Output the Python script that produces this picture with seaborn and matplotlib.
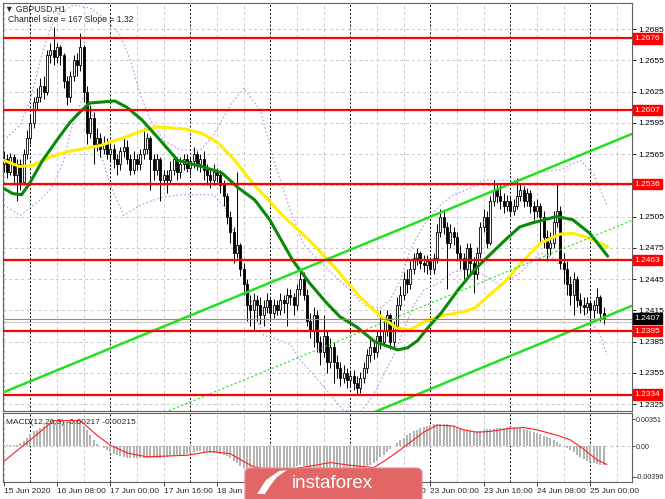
import numpy as np
import matplotlib
matplotlib.use("Agg")
import matplotlib.pyplot as plt
import matplotlib.transforms as mtransforms
from matplotlib.patches import FancyBboxPatch, Polygon
import seaborn as sns

sns.set_style("white")
plt.rcParams['font.family'] = ['Liberation Sans', 'DejaVu Sans']

# ---- data (GBPUSD H1, 15 Jun 16:00 .. 25 Jun 04:00) ----
first_open = 1.2555
close = [1.2560, 1.2548, 1.2562, 1.2545, 1.2555, 1.2538, 1.2565, 1.2580, 1.2595, 1.2615,
         1.2620, 1.2630, 1.2625, 1.2660, 1.2665, 1.2658, 1.2668, 1.2660, 1.2635, 1.2620,
         1.2640, 1.2655, 1.2650, 1.2668, 1.2625, 1.2585, 1.2600, 1.2575, 1.2580, 1.2570,
         1.2575, 1.2565, 1.2570, 1.2560, 1.2555, 1.2568, 1.2572, 1.2560, 1.2550, 1.2560,
         1.2555, 1.2565, 1.2570, 1.2580, 1.2560, 1.2550, 1.2560, 1.2540, 1.2545, 1.2540,
         1.2550, 1.2560, 1.2548, 1.2555, 1.2560, 1.2552, 1.2558, 1.2565, 1.2555, 1.2560,
         1.2550, 1.2545, 1.2540, 1.2548, 1.2545, 1.2535, 1.2525, 1.2505, 1.2490, 1.2470,
         1.2478, 1.2455, 1.2440, 1.2420, 1.2415, 1.2425, 1.2420, 1.2410, 1.2418, 1.2425,
         1.2412, 1.2420, 1.2415, 1.2425, 1.2422, 1.2430, 1.2428, 1.2420, 1.2435, 1.2445,
         1.2430, 1.2405, 1.2395, 1.2410, 1.2385, 1.2375, 1.2390, 1.2365, 1.2380, 1.2365,
         1.2360, 1.2350, 1.2355, 1.2348, 1.2352, 1.2345, 1.2340, 1.2350, 1.2360, 1.2372,
         1.2380, 1.2375, 1.2390, 1.2385, 1.2395, 1.2410, 1.2385, 1.2400, 1.2420, 1.2430,
         1.2445, 1.2440, 1.2455, 1.2465, 1.2470, 1.2460, 1.2458, 1.2462, 1.2455, 1.2465,
         1.2490, 1.2505, 1.2495, 1.2480, 1.2490, 1.2485, 1.2470, 1.2465, 1.2455, 1.2475,
         1.2460, 1.2450, 1.2470, 1.2495, 1.2505, 1.2480, 1.2520, 1.2530, 1.2525, 1.2520,
         1.2515, 1.2520, 1.2510, 1.2515, 1.2525, 1.2530, 1.2520, 1.2528, 1.2515, 1.2510,
         1.2515, 1.2505, 1.2485, 1.2475, 1.2480, 1.2500, 1.2510, 1.2460, 1.2455, 1.2440,
         1.2430, 1.2445, 1.2425, 1.2420, 1.2418, 1.2422, 1.2415, 1.2420, 1.2428, 1.2412,
         1.2407]
high = [1.2568, 1.2565, 1.2566, 1.2565, 1.2560, 1.2560, 1.2570, 1.2588, 1.2602, 1.2620,
        1.2628, 1.2638, 1.2640, 1.2665, 1.2672, 1.2687, 1.2672, 1.2670, 1.2662, 1.2640,
        1.2645, 1.2660, 1.2662, 1.2681, 1.2670, 1.2630, 1.2612, 1.2605, 1.2590, 1.2585,
        1.2582, 1.2580, 1.2578, 1.2575, 1.2565, 1.2572, 1.2580, 1.2578, 1.2565, 1.2568,
        1.2565, 1.2570, 1.2590, 1.2585, 1.2582, 1.2565, 1.2565, 1.2562, 1.2550, 1.2550,
        1.2558, 1.2565, 1.2562, 1.2562, 1.2565, 1.2565, 1.2562, 1.2572, 1.2568, 1.2565,
        1.2568, 1.2555, 1.2550, 1.2555, 1.2552, 1.2550, 1.2540, 1.2528, 1.2510, 1.2495,
        1.2548, 1.2480, 1.2460, 1.2445, 1.2430, 1.2432, 1.2430, 1.2428, 1.2425, 1.2432,
        1.2428, 1.2426, 1.2425, 1.2432, 1.2430, 1.2436, 1.2435, 1.2432, 1.2440, 1.2455,
        1.2452, 1.2435, 1.2412, 1.2418, 1.2415, 1.2390, 1.2410, 1.2395, 1.2388, 1.2385,
        1.2372, 1.2365, 1.2362, 1.2360, 1.2358, 1.2358, 1.2352, 1.2356, 1.2365, 1.2378,
        1.2388, 1.2385, 1.2395, 1.2415, 1.2405, 1.2415, 1.2412, 1.2405, 1.2428, 1.2438,
        1.2452, 1.2455, 1.2462, 1.2470, 1.2475, 1.2472, 1.2468, 1.2468, 1.2466, 1.2470,
        1.2498, 1.2512, 1.2510, 1.2500, 1.2498, 1.2495, 1.2490, 1.2478, 1.2470, 1.2480,
        1.2480, 1.2466, 1.2476, 1.2500, 1.2512, 1.2510, 1.2525, 1.2540, 1.2536, 1.2535,
        1.2528, 1.2526, 1.2524, 1.2522, 1.2542, 1.2536, 1.2534, 1.2532, 1.2530, 1.2520,
        1.2522, 1.2518, 1.2510, 1.2492, 1.2490, 1.2510, 1.2537, 1.2515, 1.2470, 1.2462,
        1.2448, 1.2452, 1.2448, 1.2432, 1.2428, 1.2428, 1.2425, 1.2425, 1.2436, 1.2430,
        1.2418]
low = [1.2548, 1.2542, 1.2545, 1.2535, 1.2520, 1.2530, 1.2535, 1.2560, 1.2575, 1.2590,
       1.2608, 1.2615, 1.2618, 1.2622, 1.2652, 1.2650, 1.2652, 1.2650, 1.2628, 1.2612,
       1.2615, 1.2635, 1.2640, 1.2645, 1.2615, 1.2575, 1.2580, 1.2555, 1.2568, 1.2562,
       1.2565, 1.2560, 1.2558, 1.2552, 1.2545, 1.2550, 1.2562, 1.2555, 1.2545, 1.2546,
       1.2550, 1.2550, 1.2560, 1.2565, 1.2530, 1.2540, 1.2545, 1.2520, 1.2535, 1.2528,
       1.2536, 1.2545, 1.2540, 1.2542, 1.2550, 1.2548, 1.2545, 1.2552, 1.2550, 1.2548,
       1.2540, 1.2535, 1.2532, 1.2535, 1.2538, 1.2528, 1.2515, 1.2498, 1.2480, 1.2460,
       1.2465, 1.2448, 1.2430, 1.2405, 1.2400, 1.2395, 1.2405, 1.2402, 1.2400, 1.2412,
       1.2405, 1.2408, 1.2410, 1.2410, 1.2412, 1.2400, 1.2420, 1.2410, 1.2415, 1.2430,
       1.2425, 1.2400, 1.2388, 1.2380, 1.2375, 1.2362, 1.2370, 1.2355, 1.2360, 1.2345,
       1.2350, 1.2342, 1.2345, 1.2340, 1.2342, 1.2338, 1.2334, 1.2336, 1.2345, 1.2355,
       1.2365, 1.2368, 1.2370, 1.2378, 1.2382, 1.2390, 1.2378, 1.2380, 1.2395, 1.2415,
       1.2425, 1.2432, 1.2435, 1.2450, 1.2458, 1.2455, 1.2452, 1.2450, 1.2450, 1.2450,
       1.2460, 1.2485, 1.2488, 1.2435, 1.2475, 1.2478, 1.2462, 1.2455, 1.2445, 1.2448,
       1.2452, 1.2432, 1.2445, 1.2465, 1.2490, 1.2475, 1.2478, 1.2515, 1.2518, 1.2512,
       1.2508, 1.2510, 1.2505, 1.2506, 1.2512, 1.2520, 1.2514, 1.2515, 1.2508, 1.2502,
       1.2505, 1.2480, 1.2475, 1.2462, 1.2468, 1.2475, 1.2495, 1.2455, 1.2440, 1.2430,
       1.2420, 1.2410, 1.2418, 1.2412, 1.2410, 1.2412, 1.2405, 1.2408, 1.2412, 1.2405,
       1.2402]

# moving averages / bands (bar index, price)
ma_green_x = [0, 2.7, 5.4, 7.8, 11.7, 15.9, 19.8, 22.8, 25.8, 29.7, 33.3, 36.9, 41.4, 46.2,
              52.2, 59.4, 65.4, 70.2, 75.3, 79.8, 86.7, 91.8, 96.9, 100.8, 105.9, 111.3,
              118.2, 121.2, 124.2, 127.2, 131.4, 136.2, 141.3, 146.4, 150.3, 154.8, 158.7,
              165.9, 170.7, 175.8, 181.2]
ma_green_y = [1.2532, 1.2527, 1.2526, 1.2537, 1.2559, 1.2578, 1.2595, 1.2605, 1.2614, 1.2615,
              1.2616, 1.2610, 1.2598, 1.2581, 1.2559, 1.2553, 1.2547, 1.2533, 1.2521, 1.2502,
              1.2463, 1.2441, 1.2422, 1.2409, 1.2399, 1.2385, 1.2377, 1.2379, 1.2386, 1.2398,
              1.2413, 1.2434, 1.2454, 1.2470, 1.2482, 1.2495, 1.2499, 1.2505, 1.2502, 1.2489,
              1.2467]
ma_yellow_x = [0, 4.8, 8.7, 13.8, 18.9, 23.7, 28.8, 36.3, 42.3, 46.2, 54.3, 59.4, 64.2, 69.3,
               74.7, 83.7, 91.8, 99.9, 106.8, 112.8, 117.9, 121.8, 126.3, 131.4, 137.4, 141.3,
               145.8, 150.3, 154.8, 160.8, 166.8, 170.7, 175.8, 181.2]
ma_yellow_y = [1.2559, 1.2553, 1.2554, 1.2562, 1.2567, 1.2570, 1.2573, 1.2581, 1.2588, 1.2591,
               1.2589, 1.2585, 1.2576, 1.2559, 1.2537, 1.2506, 1.2482, 1.2454, 1.2428, 1.2410,
               1.2398, 1.2396, 1.2404, 1.2410, 1.2413, 1.2417, 1.2430, 1.2442, 1.2459, 1.2479,
               1.2488, 1.2489, 1.2484, 1.2476]
bb_up_x = [0, 5, 8, 11, 14, 17, 21, 26, 30, 35, 38, 41, 44, 48, 53, 59, 63, 68, 72, 77, 81, 86,
           90, 95, 99, 104, 108, 113, 116, 119, 122, 126, 131, 135, 140, 144, 149, 155, 161,
           167, 173, 177, 181]
bb_up_y = [1.2578, 1.2593, 1.2617, 1.2655, 1.2686, 1.2701, 1.2708, 1.2705, 1.2696, 1.2679,
           1.2655, 1.2622, 1.2598, 1.2578, 1.2569, 1.2569, 1.2583, 1.2612, 1.2628, 1.2607,
           1.2559, 1.2511, 1.2478, 1.2461, 1.2449, 1.2434, 1.2420, 1.2417, 1.2425, 1.2444,
           1.2473, 1.2497, 1.2516, 1.2526, 1.2532, 1.2540, 1.2540, 1.2540, 1.2548, 1.2550,
           1.2559, 1.2545, 1.2516]
bb_dn_x = [0, 5, 11, 15, 18, 21, 24, 26, 28, 32, 36, 41, 47, 53, 59, 63, 67, 70, 73, 76, 78,
           83, 86, 89, 93, 98, 102, 107, 111, 114, 117, 120, 123, 126, 131, 135, 140, 144, 149,
           155, 161, 165, 170, 174, 179, 181]
bb_dn_y = [1.2516, 1.2506, 1.2521, 1.2535, 1.2559, 1.2598, 1.2620, 1.2612, 1.2578, 1.2535,
           1.2506, 1.2516, 1.2523, 1.2526, 1.2526, 1.2526, 1.2511, 1.2478, 1.2439, 1.2406,
           1.2391, 1.2386, 1.2382, 1.2367, 1.2353, 1.2334, 1.2319, 1.2317, 1.2334, 1.2353,
           1.2372, 1.2396, 1.2420, 1.2434, 1.2442, 1.2452, 1.2454, 1.2449, 1.2439, 1.2451,
           1.2470, 1.2465, 1.2446, 1.2415, 1.2391, 1.2372]

# equidistant channel (bar, price) end points
chan_x = [-1, 189]
chan_upper = [1.2335, 1.2585]
chan_mid = [1.2252, 1.2502]
chan_lower = [1.2169, 1.2420]

levels = [1.2676, 1.2607, 1.2536, 1.2463, 1.2395, 1.2334]
last_price = 1.2407
grid_prices = [1.2685, 1.2655, 1.2625, 1.2595, 1.2565, 1.2535, 1.2505, 1.2475,
               1.2445, 1.2415, 1.2385, 1.2355, 1.2325]
price_ticks = [1.2685, 1.2655, 1.2625, 1.2595, 1.2565, 1.2505, 1.2475,
               1.2445, 1.2415, 1.2385, 1.2355, 1.2325]

# MACD main (histogram) in 1e-5 units, one per bar
macd_hist_e5 = [10, 10, 15, 10, 15, 40, 70, 110, 150, 190, 210, 240, 260, 280, 300, 310, 320,
                320, 315, 310, 315, 320, 320, 310, 260, 210, 140, 80, 30, 0, -30, -50, -80,
                -100, -120, -130, -140, -150, -155, -160, -160, -160, -155, -150, -160, -160,
                -155, -150, -145, -140, -130, -125, -120, -115, -110, -100, -90, -80, -70,
                -70, -75, -80, -85, -90, -95, -100, -110, -130, -160, -190, -220, -260, -290,
                -320, -350, -360, -360, -360, -350, -345, -340, -330, -320, -310, -300, -290,
                -280, -270, -255, -250, -260, -270, -290, -310, -330, -345, -355, -360, -370,
                -375, -375, -370, -365, -360, -350, -340, -320, -300, -280, -260, -240, -220,
                -190, -140, -110, -80, -40, 0, 40, 80, 110, 140, 170, 190, 210, 230, 245, 260,
                270, 280, 290, 290, 285, 280, 270, 255, 240, 225, 210, 200, 190, 185, 190, 200,
                210, 215, 220, 225, 230, 235, 240, 245, 245, 245, 240, 235, 225, 210, 195, 180,
                165, 150, 130, 115, 100, 80, 55, 25, 0, -25, -55, -80, -110, -140, -165, -190,
                -210, -225, -235, -240, -245]
signal_x = [0, 8, 15, 23, 28, 32, 37, 43, 49, 55, 62, 68, 72, 75, 80, 86, 92, 98, 104, 111,
            114, 118, 122, 126, 130, 135, 138, 142, 146, 152, 156, 160, 166, 170, 174, 178, 181]
signal_e5 = [-200, 80, 330, 330, 140, 10, -90, -140, -130, -120, -70, -100, -200, -270, -310,
             -300, -260, -215, -250, -280, -200, -80, 50, 180, 270, 260, 210, 180, 190, 230,
             240, 210, 140, 80, -40, -180, -240]
macd_ticks = [0.00351, 0.0, -0.00396]
macd_tick_labels = ["0.00351", "0.00", "-0.00396"]

date_bars = [0, 16, 32, 48, 64, 80, 96, 112, 128, 144, 160, 176]
date_labels = ["15 Jun 2020", "16 Jun 08:00", "17 Jun 00:00", "17 Jun 16:00", "18 Jun 08:00",
               "19 Jun 00:00", "19 Jun 16:00", "22 Jun 08:00", "23 Jun 00:00", "23 Jun 16:00",
               "24 Jun 08:00", "25 Jun 00:00"]
day_bars = [8, 32, 56, 80, 104, 128, 152, 176]

# ---- figure ----
W, H = 665, 499
fig = plt.figure(figsize=(W / 100, H / 100), dpi=100)
ax = fig.add_axes([3 / W, 1 - 411 / H, 629 / W, 408 / H])
ax2 = fig.add_axes([3 / W, 1 - 482 / H, 629 / W, 69 / H])

xlim = (-0.2, 188.5)
fs = 6.0

for a in (ax, ax2):
    a.set_xlim(*xlim)
    for s in a.spines.values():
        s.set_color('#606060')
        s.set_linewidth(0.8)
    for b in range(0, 190, 8):
        if b in day_bars:
            a.axvline(b, color='black', lw=0.7, ls=(0, (2, 2)), zorder=1)
        else:
            a.axvline(b, color='#c8c8c8', lw=0.7, ls=(0, (3, 3)), zorder=1)

ax.set_ylim(1.23183, 1.2710)
for p in grid_prices:
    ax.axhline(p, color='#c8c8c8', lw=0.7, ls=(0, (3, 3)), zorder=1)

# candles
c = np.array(close)
o = np.array([first_open] + close[:-1])
idx = np.arange(len(c))
up = c >= o
ax.vlines(idx, low, high, color='black', lw=0.7, zorder=4)
ax.bar(idx[up], np.maximum(c - o, 0.00004)[up], bottom=o[up], width=0.62,
       color='white', edgecolor='black', lw=0.6, zorder=5)
ax.bar(idx[~up], (o - c)[~up], bottom=c[~up], width=0.62,
       color='black', edgecolor='black', lw=0.6, zorder=5)

# indicators
sns.lineplot(x=bb_up_x, y=bb_up_y, ax=ax, color='#c58af0', lw=0.8, ls=(0, (1.5, 2)), zorder=3, legend=False)
sns.lineplot(x=bb_dn_x, y=bb_dn_y, ax=ax, color='#c58af0', lw=0.8, ls=(0, (1.5, 2)), zorder=3, legend=False)
sns.lineplot(x=ma_yellow_x, y=ma_yellow_y, ax=ax, color='#ffee00', lw=2.2, zorder=6, legend=False)
sns.lineplot(x=ma_green_x, y=ma_green_y, ax=ax, color='#078a07', lw=2.2, zorder=6, legend=False)

# channel
ax.plot(chan_x, chan_upper, color='#22e022', lw=1.8, zorder=7)
ax.plot(chan_x, chan_lower, color='#22e022', lw=1.8, zorder=7)
ax.plot(chan_x, chan_mid, color='#22e022', lw=0.8, ls=(0, (2, 2)), zorder=7)

# levels
for lv in levels:
    ax.axhline(lv, color='#ff0000', lw=1.6, zorder=8)
ax.axhline(last_price, color='#ff6a10', lw=0.8, zorder=8)
ax.axhline(last_price - 0.0003, color='#c8c8c8', lw=0.8, zorder=2)

ax.yaxis.tick_right()
ax.set_yticks(price_ticks)
ax.set_yticklabels([f"{p:.4f}" for p in price_ticks])
ax.tick_params(axis='y', right=True, left=False, length=3, width=0.6, labelsize=fs, pad=1.5, colors='black')
ax.tick_params(axis='x', bottom=False, labelbottom=False)
ax.set_xlabel('')
ax.set_ylabel('')

trans = mtransforms.blended_transform_factory(ax.transAxes, ax.transData)
for lv in levels:
    ax.text(1.004, lv, f"{lv:.4f}", transform=trans, ha='left', va='center', fontsize=fs,
            color='white', zorder=12, clip_on=False,
            bbox=dict(boxstyle='square,pad=0.2', fc='#ff0000', ec='#ff0000'))
ax.text(1.004, last_price, f"{last_price:.4f}", transform=trans, ha='left', va='center',
        fontsize=fs, color='white', zorder=12, clip_on=False,
        bbox=dict(boxstyle='square,pad=0.2', fc='black', ec='black'))

# MACD
ax2.set_ylim(-0.00467, 0.00429)
hist = np.array(macd_hist_e5) * 1e-5
ax2.bar(idx, hist, width=0.62, color='#b4b4b4', lw=0, zorder=3)
sns.lineplot(x=signal_x, y=np.array(signal_e5) * 1e-5, ax=ax2, color='#ff2020', lw=0.8, zorder=4, legend=False)
ax2.axhline(0, color='#c0c0c0', lw=0.7, ls=(0, (3, 3)), zorder=2)
ax2.yaxis.tick_right()
ax2.set_yticks(macd_ticks)
ax2.set_yticklabels(macd_tick_labels)
ax2.tick_params(axis='y', right=True, left=False, length=2, width=0.6, labelsize=5.1, pad=1)
ax2.set_xticks(date_bars)
ax2.set_xticklabels(date_labels, ha='left')
ax2.tick_params(axis='x', bottom=True, length=3, width=0.6, labelsize=fs, pad=1.5)
ax2.set_xlabel('')
ax2.set_ylabel('')
ax2.text(0.005, 0.92, "MACD(12,26,9) -0.00217 -0.00215", transform=ax2.transAxes,
         fontsize=fs, va='top', ha='left')

# header texts
fig.text(5 / W, 1 - 9 / H, "\u25bc GBPUSD,H1", fontsize=6.2, va='center', ha='left')
fig.text(8 / W, 1 - 20 / H, "Channel size = 167 Slope = 1.32", fontsize=6.2, va='center', ha='left')

# logo
logo = FancyBboxPatch((245 / W, -0.03), 177 / W, 31 / H + 0.03,
                      boxstyle='round,pad=0,rounding_size=0.01', transform=fig.transFigure,
                      fc='#e26666', ec='#f08a8a', lw=0.8, zorder=20)
fig.patches.append(logo)
swoosh = [(257, 494), (266, 480), (279, 471), (287, 470), (277, 477), (270, 486), (265, 494)]
fig.patches.append(Polygon([(x / W, 1 - y / H) for x, y in swoosh], closed=True,
                           transform=fig.transFigure, fc='white', ec='none', zorder=21))
fig.text(332 / W, 1 - 484 / H, "instaforex", fontsize=13.5, color='white',
         ha='center', va='center', zorder=22)

fig.savefig("out.png", dpi=100)
